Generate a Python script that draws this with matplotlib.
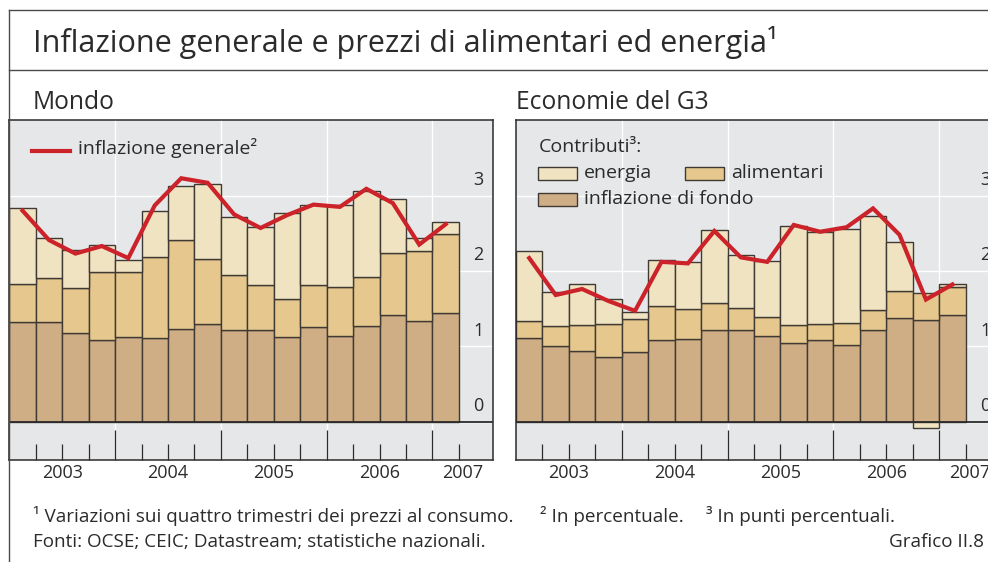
import numpy as np
import matplotlib.pyplot as plt
from matplotlib.lines import Line2D
from matplotlib.patches import Rectangle

plt.rcParams['font.family'] = ['Open Sans', 'DejaVu Sans']

# dati trimestrali 2003T1 - 2007T1
years = ['2003', '2004', '2005', '2006', '2007']

# Mondo: contributi (punti percentuali) e inflazione generale (%)
mondo_fondo = [1.32, 1.32, 1.17, 1.08, 1.12, 1.11, 1.23, 1.30, 1.22, 1.21, 1.12, 1.26, 1.13, 1.27, 1.42, 1.34, 1.44]
mondo_alim = [0.51, 0.59, 0.60, 0.91, 0.87, 1.08, 1.18, 0.86, 0.73, 0.60, 0.51, 0.55, 0.65, 0.65, 0.82, 0.93, 1.05]
mondo_energia = [1.00, 0.53, 0.51, 0.35, 0.15, 0.61, 0.72, 0.99, 0.76, 0.77, 1.14, 1.06, 1.10, 1.14, 0.72, 0.17, 0.16]
mondo_infl = [2.80, 2.41, 2.23, 2.33, 2.17, 2.87, 3.23, 3.17, 2.75, 2.57, 2.74, 2.88, 2.85, 3.09, 2.90, 2.35, 2.62]

# Economie del G3
g3_fondo = [1.11, 1.00, 0.94, 0.86, 0.92, 1.08, 1.09, 1.21, 1.21, 1.13, 1.04, 1.08, 1.02, 1.22, 1.37, 1.35, 1.42]
g3_alim = [0.22, 0.27, 0.34, 0.43, 0.44, 0.46, 0.41, 0.37, 0.30, 0.26, 0.24, 0.21, 0.29, 0.26, 0.37, 0.36, 0.36]
g3_energia = [0.94, 0.45, 0.54, 0.34, 0.10, 0.61, 0.62, 0.96, 0.70, 0.74, 1.32, 1.22, 1.24, 1.25, 0.65, -0.08, 0.05]
g3_infl = [2.17, 1.68, 1.76, 1.60, 1.47, 2.12, 2.10, 2.53, 2.18, 2.12, 2.61, 2.52, 2.58, 2.83, 2.48, 1.62, 1.82]

BG = '#e6e7e9'
C_ENERGIA = '#f0e3c2'
C_ALIM = '#e6c88e'
C_FONDO = '#cfae86'
EDGE = '#3f3a33'
RED = '#cc2229'
DARK = '#2b2b2b'
FRAME = '#4a4a4a'

W, H = 988, 562
XMAX = 18.3
YMIN, YMAX = -0.51, 4.01


def px(x, y, w, h):
    return [x / W, 1 - (y + h) / H, w / W, h / H]


def draw_panel(ax, fondo, alim, energia, infl):
    n = len(fondo)
    x = np.arange(n) + 0.5
    ax.set_facecolor(BG)
    pos = np.zeros(n)
    neg = np.zeros(n)
    for vals, col in [(fondo, C_FONDO), (alim, C_ALIM), (energia, C_ENERGIA)]:
        vals = np.asarray(vals)
        bottom = np.where(vals >= 0, pos, neg)
        ax.bar(x, vals, width=1.0, bottom=bottom, color=col, edgecolor=EDGE,
               linewidth=1.0, zorder=2)
        pos += np.clip(vals, 0, None)
        neg += np.clip(vals, None, 0)
    ax.axhline(0, color=DARK, lw=1.3, zorder=3)
    ax.plot(x, infl, color=RED, lw=3.0, zorder=4, solid_joinstyle='miter')

    ax.set_xlim(0, XMAX)
    ax.set_ylim(YMIN, YMAX)
    ax.set_xticks([4, 8, 12, 16])
    ax.set_xticks([q for q in range(1, n + 1) if q % 4], minor=True)
    ax.set_yticks([0, 1, 2, 3])
    ax.tick_params(axis='x', which='major', direction='in', length=21.5, width=0.9,
                   color=DARK, labelbottom=False)
    ax.tick_params(axis='x', which='minor', direction='in', length=11.2, width=0.9,
                   color=DARK)
    ax.tick_params(axis='y', length=0, labelleft=False)
    ax.grid(True, which='major', color='white', lw=1.0)
    ax.set_axisbelow(True)
    for s in ax.spines.values():
        s.set_color(DARK)
        s.set_linewidth(1.1)

    for v in [0, 1, 2, 3]:
        ax.annotate(str(v), xy=(1, v), xycoords=('axes fraction', 'data'),
                    xytext=(-6.8, 11.2), textcoords='offset points',
                    ha='right', va='center', fontsize=13, color=DARK)
    for i, yr in enumerate(years):
        c = (4 * i + min(4 * i + 4, XMAX)) / 2
        ax.annotate(yr, xy=(c, 0), xycoords=('data', 'axes fraction'),
                    xytext=(0, -9.2), textcoords='offset points',
                    ha='center', va='center', fontsize=13, color=DARK,
                    annotation_clip=False)


fig = plt.figure(figsize=(W / 100, H / 100), dpi=100)
fig.patch.set_facecolor('white')

ax1 = fig.add_axes(px(9.3, 119.5, 484, 340.5))
ax2 = fig.add_axes(px(516, 119.5, 484, 340.5))
draw_panel(ax1, mondo_fondo, mondo_alim, mondo_energia, mondo_infl)
draw_panel(ax2, g3_fondo, g3_alim, g3_energia, g3_infl)

# legenda Mondo
ax1.add_line(Line2D([0.0463, 0.1254], [0.9075, 0.9075], transform=ax1.transAxes,
                    color=RED, lw=3.0, zorder=5))
ax1.text(0.141, 0.916, 'inflazione generale²', transform=ax1.transAxes,
         fontsize=14, color=DARK, va='center', ha='left', zorder=5)

# legenda G3
ax2.text(0.046, 0.920, 'Contributi³:', transform=ax2.transAxes,
         fontsize=14, color=DARK, va='center', ha='left', zorder=5)
leg = [(0.046, 0.8223, C_ENERGIA, 0.141, 'energia'),
       (0.3498, 0.8223, C_ALIM, 0.4442, 'alimentari'),
       (0.046, 0.746, C_FONDO, 0.141, 'inflazione di fondo')]
for bx, by, col, tx, lab in leg:
    ax2.add_patch(Rectangle((bx, by), 0.0793, 0.0395, transform=ax2.transAxes,
                            facecolor=col, edgecolor=EDGE, lw=1.0, zorder=5))
    ax2.text(tx, by + 0.0205, lab, transform=ax2.transAxes, fontsize=14,
             color=DARK, va='center', ha='left', zorder=5)

# cornice
fig.add_artist(Line2D([9.3 / W, 1], [1 - 10 / H, 1 - 10 / H], color=FRAME, lw=1.0))
fig.add_artist(Line2D([9.3 / W, 1], [1 - 70 / H, 1 - 70 / H], color=FRAME, lw=1.0))
fig.add_artist(Line2D([9.3 / W, 9.3 / W], [0, 1 - 10 / H], color=FRAME, lw=1.0))

fig.text(33 / W, 1 - 52 / H, 'Inflazione generale e prezzi di alimentari ed energia¹',
         fontsize=22, color=DARK, va='baseline', ha='left')
fig.text(33 / W, 1 - 109 / H, 'Mondo', fontsize=17.7, color=DARK, va='baseline', ha='left')
fig.text(516 / W, 1 - 109 / H, 'Economie del G3', fontsize=17.7, color=DARK,
         va='baseline', ha='left')

fs = 13.6
fig.text(33 / W, 1 - 521.7 / H, '¹ Variazioni sui quattro trimestri dei prezzi al consumo.',
         fontsize=fs, color=DARK, va='baseline', ha='left')
fig.text(540 / W, 1 - 521.7 / H, '² In percentuale.', fontsize=fs, color=DARK,
         va='baseline', ha='left')
fig.text(706 / W, 1 - 521.7 / H, '³ In punti percentuali.', fontsize=fs, color=DARK,
         va='baseline', ha='left')
fig.text(33 / W, 1 - 546.7 / H, 'Fonti: OCSE; CEIC; Datastream; statistiche nazionali.',
         fontsize=fs, color=DARK, va='baseline', ha='left')
fig.text(984 / W, 1 - 546.7 / H, 'Grafico II.8', fontsize=fs, color=DARK,
         va='baseline', ha='right')

fig.savefig('out.png', dpi=100)
